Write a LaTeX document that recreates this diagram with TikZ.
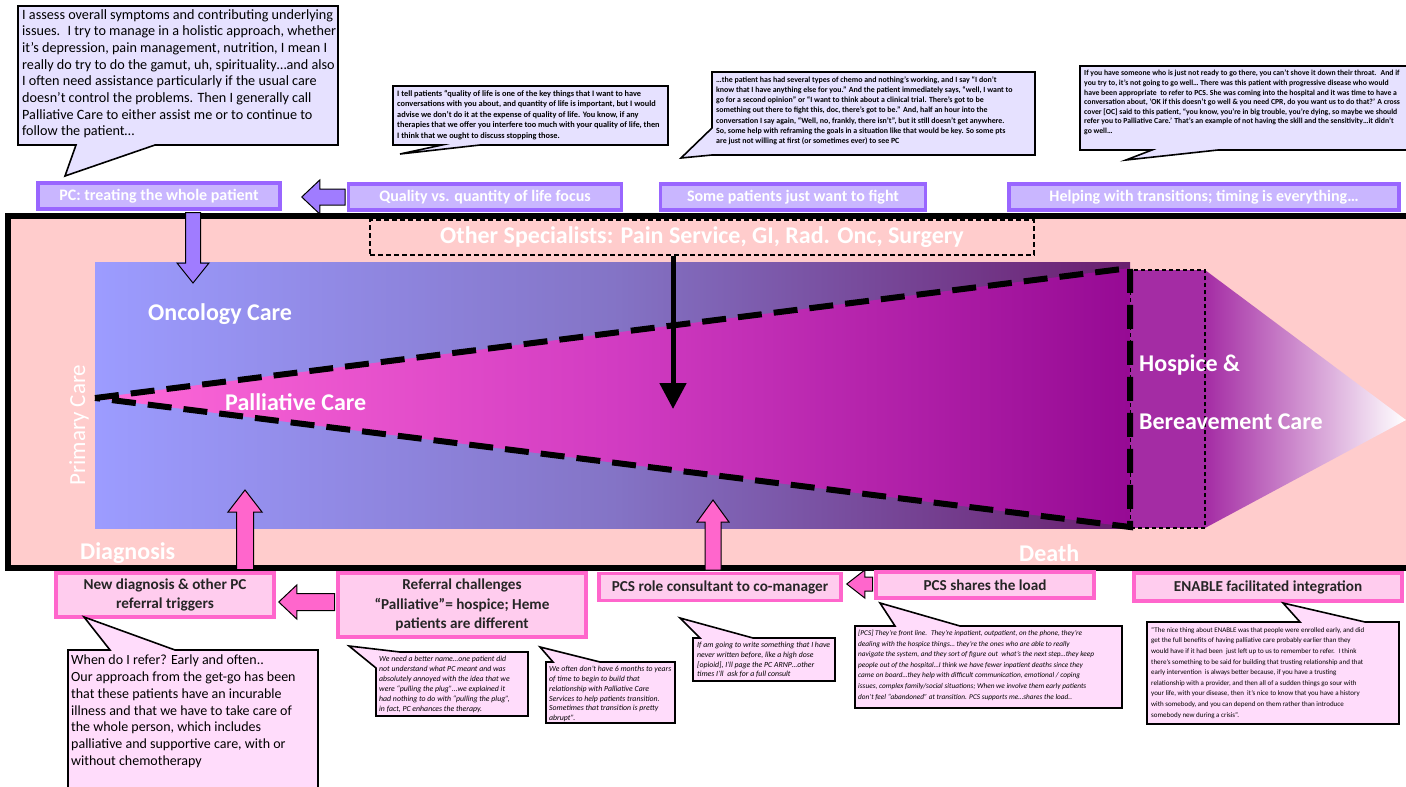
\documentclass[tikz,border=0pt]{standalone}
\usepackage{fontspec}
\setmainfont{Carlito}
\usetikzlibrary{calc,arrows.meta}
\definecolor{framepink}{HTML}{FFCCCC}
\definecolor{innerL}{HTML}{9C9CFF}
\definecolor{innerM}{HTML}{8474C6}
\definecolor{innerR}{HTML}{6A1E6E}
\definecolor{coneL}{HTML}{FF6AD8}
\definecolor{coneM}{HTML}{D23CC2}
\definecolor{coneR}{HTML}{960A94}
\definecolor{hospice}{HTML}{A42CA4}
\definecolor{labpurple}{HTML}{9966FF}
\definecolor{lablav}{HTML}{C9B6FF}
\definecolor{labpink}{HTML}{FF66CC}
\definecolor{labpinkfill}{HTML}{FFCCEE}
\definecolor{arrowpurple}{HTML}{A07CFF}
\definecolor{arrowpink}{HTML}{FF66CC}
\definecolor{calllav}{HTML}{E6E1FF}
\definecolor{callpink}{HTML}{FFDCFB}
\definecolor{darktext}{HTML}{262626}
% horizontal block arrow pointing left: style, tail, tip, body half height, head half height
\newcommand\myLblock[5]{\draw[#1] let \p1=(#2), \p2=(#3) in
 (\x1,\y2+#4) -- (\x2+18pt,\y2+#4) -- (\x2+18pt,\y2+#5) -- (\x2,\y2) -- (\x2+18pt,\y2-#5) -- (\x2+18pt,\y2-#4) -- (\x1,\y2-#4) -- cycle;}
% vertical block arrow: style, tail, tip, body half width, head half width, signed head length
\newcommand\myVblock[6]{\draw[#1] let \p1=(#2), \p2=(#3) in
 (\x2-#4,\y1) -- (\x2-#4,\y2#6) -- (\x2-#5,\y2#6) -- (\x2,\y2) -- (\x2+#5,\y2#6) -- (\x2+#4,\y2#6) -- (\x2+#4,\y1) -- cycle;}
\begin{document}
\begin{tikzpicture}[x=1pt,y=-1pt,
 toplab/.style={draw=labpurple, line width=3.5pt, fill=lablav, text=white, font=\bfseries\fontsize{16}{18}\selectfont, inner sep=0pt, align=center},
 botlab/.style={draw=labpink, line width=3.5pt, fill=labpinkfill, text=darktext, font=\bfseries\fontsize{15.2}{19.5}\selectfont, inner sep=0pt, align=center},
 bigtext/.style={text=white, font=\bfseries\fontsize{24}{28}\selectfont, inner sep=0pt},
 balloonA/.style={draw=black, line width=1.6pt, fill=calllav},
 balloonB/.style={draw=black, line width=1.6pt, fill=callpink},
 ctext/.style={anchor=north west, inner sep=0pt, align=left, text=black},
 purplearrow/.style={draw=black, line width=1pt, fill=arrowpurple},
 pinkarrow/.style={draw=black, line width=1pt, fill=arrowpink},
]
\useasboundingbox (0,0) rectangle (1406,787);
\begin{scope}
\clip (0,0) rectangle (1406,787);
\fill[white] (0,0) rectangle (1406,787);

% main frame
\draw[line width=6pt, fill=framepink] (8,216) rectangle (1425,568);
% oncology care band
\shade[left color=innerL, right color=innerR, middle color=innerM] (95,262) rectangle (1130,528);
% hospice
\shade[left color=hospice, right color=white] (1205,270) -- (1406,420) -- (1205,528) -- cycle;
\draw[fill=hospice, line width=1.5pt, dash pattern=on 4pt off 3pt] (1130,270) rectangle (1205,528);
% palliative cone
\shade[left color=coneL, right color=coneR, middle color=coneM] (95,398) -- (1130,268) -- (1130,527) -- cycle;
\draw[line width=6pt, dash pattern=on 24pt off 12pt] (95,398) -- (1130,268) -- (1130,527) -- cycle;

% texts in frame
\node[bigtext, anchor=west] (onc) at (148,314) {Oncology Care};
\node[bigtext, anchor=west] (pall) at (225,402) {Palliative Care};
\node[bigtext, anchor=west] (hosp1) at (1139,365) {Hospice \&};
\node[bigtext, anchor=west] (hosp2) at (1139,422) {Bereavement Care};
\node[bigtext, anchor=west] (dx) at (80,553) {Diagnosis};
\node[bigtext, anchor=west] (death) at (1019,553) {Death};
\node[text=white, rotate=90, inner sep=0pt, font=\fontsize{23}{26}\selectfont] (prim) at (79,425) {Primary Care};

% other specialists
\node[bigtext, draw=black, line width=1.4pt, dash pattern=on 5pt off 3pt, minimum width=664pt, minimum height=35pt] (spec) at (702,237.5) {Other Specialists: Pain Service, GI, Rad. Onc, Surgery};
\coordinate (blacktip) at (673,409);
\draw[line width=5pt, -{Triangle[length=26pt,width=26pt]}] ($(spec.south)+(-29,0)$) -- (blacktip);

% top labels
\node[toplab, minimum width=242pt, minimum height=26pt] (pc) at (159,196) {PC: treating the whole patient};
\node[toplab, minimum width=273pt, minimum height=26pt] (qual) at (485,197) {Quality vs. quantity of life focus};
\node[toplab, minimum width=265pt, minimum height=26pt] (fight) at (793,197) {Some patients just want to fight};
\node[toplab, minimum width=390pt, minimum height=26pt] (help) at (1204,197) {Helping with transitions; timing is everything…};

% bottom labels
\node[botlab, minimum width=218pt, minimum height=44pt] (newdx) at (165,595) {New diagnosis \& other PC\\referral triggers};
\node[botlab, minimum width=248pt, minimum height=64pt] (refer) at (462,605) {Referral challenges\\“Palliative”= hospice; Heme\\patients are different};
\node[botlab, minimum width=242pt, minimum height=27pt] (pcsrole) at (720,587) {PCS role consultant to co-manager};
\node[botlab, minimum width=218pt, minimum height=26pt] (shares) at (985,585) {PCS shares the load};
\node[botlab, minimum width=268pt, minimum height=28pt] (enable) at (1268,587) {ENABLE facilitated integration};

% block arrows
\myLblock{purplearrow}{$(qual.west)+(-1.75,0)$}{$(pc.east)+(20,1)$}{8pt}{17pt}
\myLblock{pinkarrow}{$(refer.west)+(-1.75,0)$}{$(newdx.east)+(3,7)$}{8.5pt}{17pt}
\myLblock{pinkarrow}{$(shares.west)+(-1.75,0)$}{$(pcsrole.east)+(4,-3)$}{7pt}{14pt}
\coordinate (pcdown) at (193,283);
\myVblock{purplearrow}{$(pc.south)+(34,1.75)$}{pcdown}{7.5pt}{16pt}{+20pt}
\coordinate (dxup) at (245,490);
\myVblock{pinkarrow}{$(newdx.north)+(80,-1.75)$}{dxup}{8.5pt}{17pt}{-22pt}
\coordinate (roleup) at (713,500);
\myVblock{pinkarrow}{$(pcsrole.north)+(-7,-1.75)$}{roleup}{8pt}{16pt}{-22pt}

% top callouts
\draw[balloonA] (18,6) -- (338,6) -- (338,145) -- (155,145) -- (65,176) -- (76,145) -- (18,145) -- cycle;
\node[ctext, font=\fontsize{14.2}{16.7}\selectfont] (q1) at (22,9) {I assess overall symptoms and contributing underlying\\
issues.~ I try to manage in a holistic approach, whether\\
it’s depression, pain management, nutrition, I mean I\\
really do try to do the gamut, uh, spirituality…and also\\
I often need assistance particularly if the usual care\\
doesn’t control the problems. Then I generally call\\
Palliative Care to either assist me or to continue to\\
follow the patient…};

\draw[balloonA] (393,86) -- (668,86) -- (668,145) -- (480,145) -- (400,154) -- (442,145) -- (393,145) -- cycle;
\node[ctext, font=\bfseries\fontsize{8.3}{10.5}\selectfont] (q2) at (397,90) {I tell patients “quality of life is one of the key things that I want to have\\
conversations with you about, and quantity of life is important, but I would\\
advise we don’t do it at the expense of quality of life. You know, if any\\
therapies that we offer you interfere too much with your quality of life, then\\
I think that we ought to discuss stopping those.};

\draw[balloonA] (712,72) -- (1035,72) -- (1035,155) -- (712,155) -- (681,158) -- (712,128) -- cycle;
\node[ctext, font=\bfseries\fontsize{7.9}{10.3}\selectfont] (q3) at (716,76) {…the patient has had several types of chemo and nothing’s working, and I say “I don’t\\
know that I have anything else for you.” And the patient immediately says, “well, I want to\\
go for a second opinion” or “I want to think about a clinical trial. There’s got to be\\
something out there to fight this, doc, there’s got to be.” And, half an hour into the\\
conversation I say again, “Well, no, frankly, there isn’t”, but it still doesn’t get anywhere.\\
So, some help with reframing the goals in a situation like that would be key. So some pts\\
are just not willing at first (or sometimes ever) to see PC};

\draw[balloonA] (1080,66) -- (1425,66) -- (1425,150) -- (1218,150) -- (1126,160) -- (1152,150) -- (1080,150) -- cycle;
\node[ctext, font=\bfseries\fontsize{7.7}{9.6}\selectfont] (q4) at (1084,70) {If you have someone who is just not ready to go there, you can’t shove it down their throat.~ And if\\
you try to, it’s not going to go well… There was this patient with progressive disease who would\\
have been appropriate~ to refer to PCS. She was coming into the hospital and it was time to have a\\
conversation about, ‘OK if this doesn’t go well \& you need CPR, do you want us to do that?’ A cross\\
cover {[}OC] said to this patient, “you know, you’re in big trouble, you’re dying, so maybe we should\\
refer you to Palliative Care.’ That’s an example of not having the skill and the sensitivity…it didn’t\\
go well…};

% bottom callouts
\draw[balloonB] (68,650) -- (110,650) -- (84,617) -- (175,650) -- (318,650) -- (318,800) -- (68,800) -- cycle;
\node[ctext, font=\fontsize{14}{16.7}\selectfont] (q5) at (71,655) {When do I refer? Early and often..\\
Our approach from the get-go has been\\
that these patients have an incurable\\
illness and that we have to take care of\\
the whole person, which includes\\
palliative and supportive care, with or\\
without chemotherapy};

\draw[balloonB] (376,668) -- (349,646) -- (400,652) -- (528,652) -- (528,716) -- (376,716) -- cycle;
\node[ctext, font=\itshape\fontsize{7.8}{10}\selectfont] (q6) at (379,656) {We need a better name…one patient did\\
not understand what PC meant and was\\
absolutely annoyed with the idea that we\\
were “pulling the plug”…we explained it\\
had nothing to do with “pulling the plug”,\\
in fact, PC enhances the therapy.};

\draw[balloonB] (546,662) -- (553,662) -- (540,647) -- (600,662) -- (675,662) -- (675,723) -- (546,723) -- cycle;
\node[ctext, font=\itshape\fontsize{7.8}{9.8}\selectfont] (q7) at (549,666) {We often don’t have 6 months to years\\
of time to begin to build that\\
relationship with Palliative Care\\
Services to help patients transition.\\
Sometimes that transition is pretty\\
abrupt”.};

\draw[balloonB] (693,638) -- (700,638) -- (680,618) -- (753,638) -- (835,638) -- (835,681) -- (693,681) -- cycle;
\node[ctext, font=\itshape\fontsize{7.8}{9.7}\selectfont] (q8) at (697,642) {If am going to write something that I have\\
never written before, like a high dose\\
{[}opioid], I’ll page the PC ARNP…other\\
times I’ll~ ask for a full consult};

\draw[balloonB] (855,626) -- (895,626) -- (880,603) -- (960,626) -- (1122,626) -- (1122,708) -- (855,708) -- cycle;
\node[ctext, font=\itshape\fontsize{7.3}{10.6}\selectfont] (q9) at (858,630) {{[}PCS] They’re front line.~ They’re inpatient, outpatient, on the phone, they’re\\
dealing with the hospice things… they’re the ones who are able to really\\
navigate the system, and they sort of figure out~ what’s the next step…they keep\\
people out of the hospital…I think we have fewer inpatient deaths since they\\
came on board…they help with difficult communication, emotional / coping\\
issues, complex family/social situations; When we involve them early patients\\
don’t feel “abandoned” at transition. PCS supports me…shares the load..};

\draw[balloonB] (1147,622) -- (1300,622) -- (1283,603) -- (1365,622) -- (1399,622) -- (1399,724) -- (1147,724) -- cycle;
\node[ctext, font=\fontsize{7}{10.6}\selectfont] (q10) at (1151,627) {“The nice thing about ENABLE was that people were enrolled early, and did\\
get the full benefits of having palliative care probably earlier than they\\
would have if it had been~ just left up to us to remember to refer.~ I think\\
there’s something to be said for building that trusting relationship and that\\
early intervention~ is always better because, if you have a trusting\\
relationship with a provider, and then all of a sudden things go sour with\\
your life, with your disease, then~ it’s nice to know that you have a history\\
with somebody, and you can depend on them rather than introduce\\
somebody new during a crisis”.};
\end{scope}
\end{tikzpicture}
\end{document}
